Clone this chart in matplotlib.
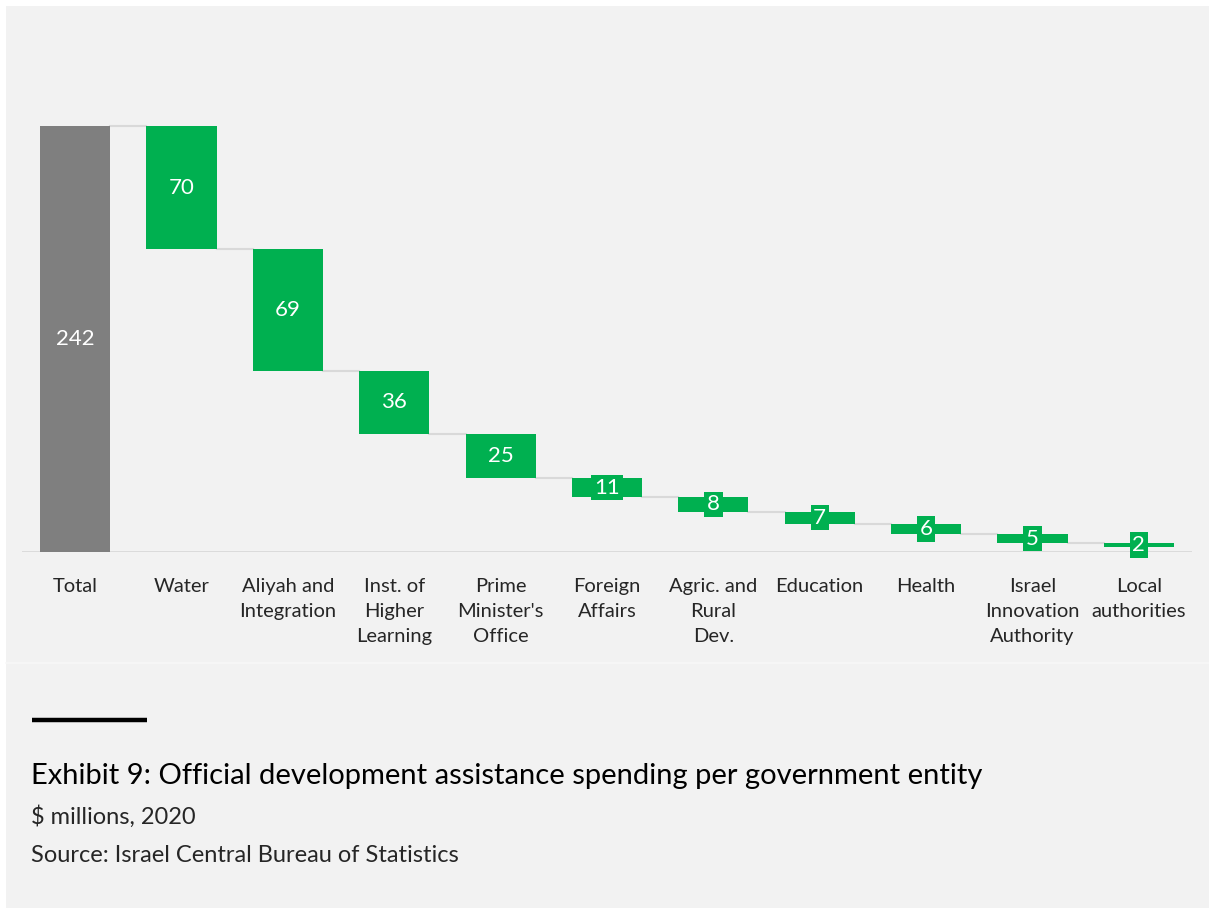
import matplotlib
matplotlib.use("Agg")
import matplotlib.pyplot as plt
from matplotlib.patches import Rectangle
from matplotlib.lines import Line2D

plt.rcParams['font.family'] = ['Lato', 'DejaVu Sans']

categories = ["Total", "Water", "Aliyah and\nIntegration", "Inst. of\nHigher\nLearning",
              "Prime\nMinister's\nOffice", "Foreign\nAffairs", "Agric. and\nRural\nDev.",
              "Education", "Health", "Israel\nInnovation\nAuthority", "Local\nauthorities"]
total_value = 242
step_values = [70, 69, 36, 25, 11, 8, 7, 6, 5, 2]

title = "Exhibit 9: Official development assistance spending per government entity"
subtitle = "$ millions, 2020"
source = "Source: Israel Central Bureau of Statistics"

W, H = 1209, 908
fig = plt.figure(figsize=(W / 100, H / 100), dpi=100)
fig.patch.set_facecolor("white")
fig.patches.append(Rectangle((6 / W, 0), 1 - 6 / W, 1 - 6 / H, transform=fig.transFigure,
                             facecolor="#f2f2f2", edgecolor="none", zorder=-10))
# faint separator below chart panel
fig.lines.append(Line2D([6 / W, 1], [1 - 663 / H] * 2, transform=fig.transFigure,
                        color="#f8f8f8", lw=1.2))

GREEN = "#00b050"
GREY = "#7f7f7f"
CONN = "#d9d9d9"

# axes geometry (pixels)
base_px = 552
top_px = 126
px_per_unit = (base_px - top_px) / total_value
ax_top_px = 40
ax_left_px, ax_right_px = 22, 1192
ymax = (base_px - ax_top_px) / px_per_unit
ax = fig.add_axes([ax_left_px / W, (H - base_px) / H, (ax_right_px - ax_left_px) / W,
                   (base_px - ax_top_px) / H])
ax.set_facecolor("none")
ax.set_xlim(-0.5, len(categories) - 0.5)
ax.set_ylim(0, ymax)
for s in ax.spines.values():
    s.set_visible(False)
ax.set_yticks([])
ax.set_xticks(range(len(categories)))
ax.set_xticklabels(categories, fontsize=14.5, color="#262626", linespacing=1.57, va="top")
ax.tick_params(axis="x", length=0, pad=19)
ax.axhline(0, color=CONN, lw=2, zorder=1)

bw = 0.66
# total bar
ax.bar(0, total_value, width=bw, color=GREY, zorder=3)
ax.text(0, total_value / 2, str(total_value), ha="center", va="center", color="white",
        fontsize=16, zorder=5)

level = total_value
prev_right = 0 + bw / 2
for i, v in enumerate(step_values, start=1):
    top = level
    bottom = level - v
    ax.plot([prev_right, i - bw / 2], [top, top], color=CONN, lw=1.5, zorder=2)
    ax.bar(i, v, bottom=bottom, width=bw, color=GREEN, zorder=3)
    ax.text(i, (top + bottom) / 2, str(v), ha="center", va="center", color="white",
            fontsize=16, zorder=5,
            bbox=dict(boxstyle="square,pad=0.12", facecolor=GREEN, edgecolor="none"))
    prev_right = i + bw / 2
    level = bottom

# footer
fig.lines.append(Line2D([32 / W, 147 / W], [1 - 720 / H] * 2, transform=fig.transFigure,
                        color="black", lw=3.2, solid_capstyle="butt"))
fig.text(31 / W, 1 - 776 / H, title, fontsize=21, color="black", ha="left", va="center")
fig.text(31 / W, 1 - 817 / H, subtitle, fontsize=17, color="#262626", ha="left", va="center")
fig.text(31 / W, 1 - 856 / H, source, fontsize=17, color="#262626", ha="left", va="center")

fig.savefig("out.png", dpi=100, facecolor=fig.get_facecolor())
